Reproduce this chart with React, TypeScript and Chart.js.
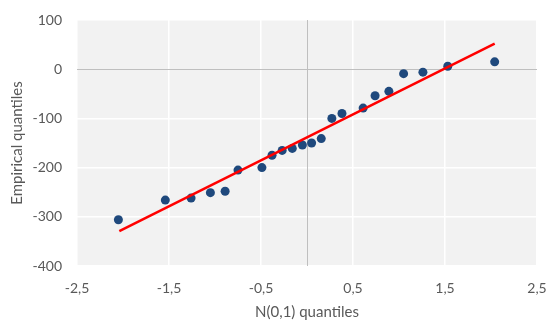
import React, { useEffect, useRef } from "react";
import { Chart, registerables } from "chart.js";

Chart.register(...registerables);

// Theoretical N(0,1) quantiles (x) and empirical quantiles (y)
const normalQuantiles = [
  -2.05, -1.54, -1.26, -1.05, -0.89, -0.75, -0.49, -0.38, -0.27, -0.16, -0.05,
  0.05, 0.155, 0.27, 0.38, 0.61, 0.74, 0.89, 1.05, 1.26, 1.53, 2.04,
];
const empiricalQuantiles = [
  -306, -266, -262, -251, -248, -205, -200, -175, -165, -161, -154,
  -150, -141, -100, -90, -79, -54, -45, -9, -6, 6, 15,
];

// Reference (fitted) line end points
const fitLineX = [-2.04, 2.04];
const fitLineY = [-329, 52];

// Axis ticks
const xTickValues = [-2.5, -1.5, -0.5, 0.5, 1.5, 2.5];
const yTickValues = [-400, -300, -200, -100, 0, 100];

const xTitle = "N(0,1) quantiles";
const yTitle = "Empirical quantiles";

const fmt = (v: number) => String(v).replace(".", ",");

export default function App() {
  const ref = useRef<HTMLCanvasElement | null>(null);

  useEffect(() => {
    if (!ref.current) return;
    const bgPlugin = {
      id: "plotBg",
      beforeDraw(chart: any) {
        const { ctx, chartArea } = chart;
        ctx.save();
        ctx.fillStyle = "#f2f2f2";
        ctx.fillRect(chartArea.left, chartArea.top, chartArea.right - chartArea.left, chartArea.bottom - chartArea.top);
        ctx.restore();
      },
      beforeDatasetsDraw(chart: any) {
        const { ctx, chartArea, scales } = chart;
        const x0 = Math.round(scales.x.getPixelForValue(0)) + 0.5;
        ctx.save();
        ctx.strokeStyle = "#bfbfbf";
        ctx.lineWidth = 1;
        ctx.beginPath();
        ctx.moveTo(x0, chartArea.top);
        ctx.lineTo(x0, chartArea.bottom);
        ctx.stroke();
        ctx.restore();
      },
    };

    const chart = new Chart(ref.current, {
      type: "scatter",
      data: {
        datasets: [
          {
            type: "line",
            label: "fit",
            data: fitLineX.map((x, i) => ({ x, y: fitLineY[i] })),
            borderColor: "#ff0000",
            borderWidth: 2.5,
            pointRadius: 0,
            fill: false,
            order: 1,
          } as any,
          {
            label: "data",
            data: normalQuantiles.map((x, i) => ({ x, y: empiricalQuantiles[i] })),
            backgroundColor: "#1f497d",
            borderColor: "#1f497d",
            pointRadius: 4.5,
            pointBorderWidth: 0,
            order: 2,
          },
        ],
      },
      options: {
        animation: false,
        responsive: false,
        layout: { padding: { top: 20, right: 11, bottom: -1, left: 8 } },
        plugins: { legend: { display: false }, tooltip: { enabled: false } },
        scales: {
          x: {
            type: "linear",
            min: -2.5,
            max: 2.5,
            afterBuildTicks: (axis: any) => {
              axis.ticks = xTickValues.map((v) => ({ value: v }));
            },
            afterFit: (axis: any) => {
              axis.height = 55;
              axis.paddingLeft = 0;
              axis.paddingRight = 0;
            },
            ticks: {
              callback: (v: any) => fmt(v),
              color: "#595959",
              font: { family: "Lato", size: 14 },
              padding: 14,
              maxRotation: 0,
            },
            grid: { color: "#ffffff", lineWidth: 1.5, drawTicks: false },
            border: { display: false },
            title: {
              display: true,
              text: xTitle,
              color: "#595959",
              font: { family: "Lato", size: 15 },
              padding: { top: 2, bottom: 0 },
            },
          },
          y: {
            type: "linear",
            min: -400,
            max: 100,
            afterBuildTicks: (axis: any) => {
              axis.ticks = yTickValues.map((v) => ({ value: v }));
            },
            afterFit: (axis: any) => {
              axis.width = 69;
              axis.paddingTop = 0;
              axis.paddingBottom = 0;
            },
            ticks: {
              callback: (v: any) => fmt(v),
              color: "#595959",
              font: { family: "Lato", size: 14 },
              padding: 15,
            },
            grid: {
              color: (c: any) => (c.tick && c.tick.value === 0 ? "#bfbfbf" : "#ffffff"),
              lineWidth: (c: any) => (c.tick && c.tick.value === 0 ? 1 : 1.5),
              drawTicks: false,
            },
            border: { display: false },
            title: {
              display: true,
              text: yTitle,
              color: "#595959",
              font: { family: "Lato", size: 15 },
              padding: { top: 0, bottom: 4 },
            },
          },
        },
      },
      plugins: [bgPlugin],
    });
    return () => chart.destroy();
  }, []);

  return (
    <div style={{ position: "absolute", left: 0, top: 0, width: 548, height: 320, background: "#fff" }}>
      <canvas ref={ref} width={548} height={320} style={{ display: "block", width: 548, height: 320 }} />
    </div>
  );
}
